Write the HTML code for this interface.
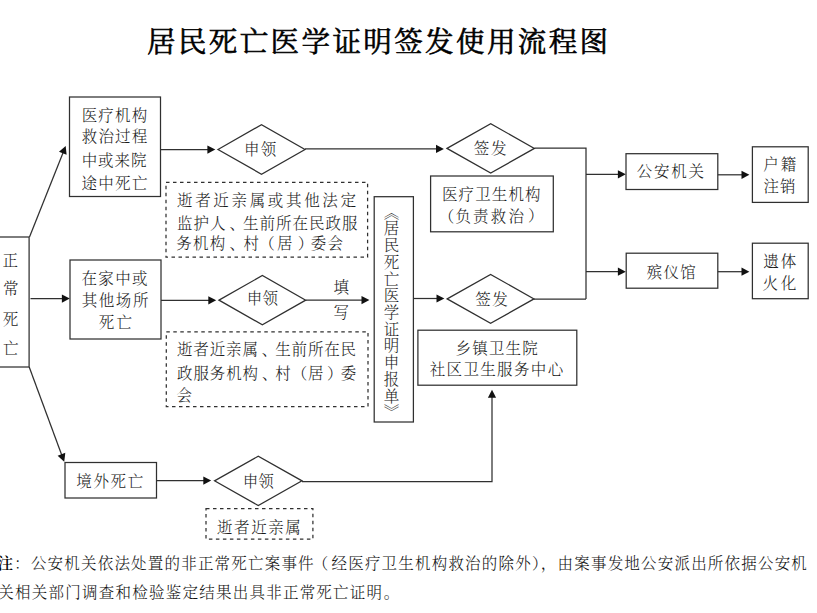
<!DOCTYPE html>
<html><head><meta charset="utf-8"><style>
html,body{margin:0;padding:0;background:#fff;}
body{width:817px;height:613px;position:relative;overflow:hidden;font-family:'Liberation Serif','Noto Serif CJK SC',serif;}
.t{position:absolute;white-space:pre;}
svg{position:absolute;left:0;top:0;}
</style></head><body>
<svg width="817" height="613" viewBox="0 0 817 613">
<rect x="-5" y="237" width="34.10" height="130.00" fill="none" stroke="#303030" stroke-width="1.25"/>
<polyline points="29.50,237.00 63.15,152.41" fill="none" stroke="#303030" stroke-width="1.25"/>
<polygon points="65.70,146.00 66.59,154.86 58.97,151.83" fill="#111"/>
<polyline points="30.50,298.60 62.90,298.60" fill="none" stroke="#303030" stroke-width="1.25"/>
<polygon points="69.80,298.60 61.90,302.70 61.90,294.50" fill="#111"/>
<polyline points="29.20,367.00 61.81,455.23" fill="none" stroke="#303030" stroke-width="1.25"/>
<polygon points="64.20,461.70 57.62,455.71 65.31,452.87" fill="#111"/>
<rect x="69.5" y="97" width="91.00" height="99.50" fill="none" stroke="#303030" stroke-width="1.25"/>
<rect x="70" y="260" width="91.00" height="79.00" fill="none" stroke="#303030" stroke-width="1.25"/>
<rect x="65" y="462.5" width="91.50" height="35.50" fill="none" stroke="#303030" stroke-width="1.25"/>
<polyline points="160.50,149.60 208.40,149.60" fill="none" stroke="#303030" stroke-width="1.25"/>
<polygon points="215.30,149.60 207.40,153.70 207.40,145.50" fill="#111"/>
<polygon points="218,149.45 261.5,124.7 305,149.45 261.5,174.2" fill="none" stroke="#303030" stroke-width="1.25"/>
<polyline points="305.00,148.90 437.00,148.90" fill="none" stroke="#303030" stroke-width="1.25"/>
<polygon points="443.90,148.90 436.00,153.00 436.00,144.80" fill="#111"/>
<rect x="166" y="182.4" width="201.60" height="74.80" fill="none" stroke="#303030" stroke-width="1.25" stroke-dasharray="3.5 3.5"/>
<polygon points="447,148.4 490.7,123.7 534.4,148.4 490.7,173.1" fill="none" stroke="#303030" stroke-width="1.25"/>
<polyline points="534.40,148.20 586.00,148.20 586.00,299.00" fill="none" stroke="#303030" stroke-width="1.25"/>
<polyline points="586.00,174.30 618.90,174.30" fill="none" stroke="#303030" stroke-width="1.25"/>
<polygon points="625.80,174.30 617.90,178.40 617.90,170.20" fill="#111"/>
<rect x="626" y="153.7" width="91.80" height="35.80" fill="none" stroke="#303030" stroke-width="1.25"/>
<polyline points="717.80,174.80 742.50,174.80" fill="none" stroke="#303030" stroke-width="1.25"/>
<polygon points="749.40,174.80 741.50,178.90 741.50,170.70" fill="#111"/>
<rect x="752.4" y="146.8" width="55.80" height="55.60" fill="none" stroke="#303030" stroke-width="1.25"/>
<rect x="430.6" y="176" width="122.70" height="55.80" fill="none" stroke="#303030" stroke-width="1.25"/>
<polyline points="586.00,271.70 618.90,271.70" fill="none" stroke="#303030" stroke-width="1.25"/>
<polygon points="625.80,271.70 617.90,275.80 617.90,267.60" fill="#111"/>
<rect x="626.2" y="253.2" width="91.60" height="35.00" fill="none" stroke="#303030" stroke-width="1.25"/>
<polyline points="717.80,271.70 742.50,271.70" fill="none" stroke="#303030" stroke-width="1.25"/>
<polygon points="749.40,271.70 741.50,275.80 741.50,267.60" fill="#111"/>
<rect x="752.4" y="243.2" width="55.80" height="55.50" fill="none" stroke="#303030" stroke-width="1.25"/>
<polyline points="161.00,300.30 209.30,300.30" fill="none" stroke="#303030" stroke-width="1.25"/>
<polygon points="216.20,300.30 208.30,304.40 208.30,296.20" fill="#111"/>
<polygon points="219,300.15 262.35,275.5 305.7,300.15 262.35,324.8" fill="none" stroke="#303030" stroke-width="1.25"/>
<polyline points="305.70,300.10 362.50,300.10" fill="none" stroke="#303030" stroke-width="1.25"/>
<polygon points="369.40,300.10 361.50,304.20 361.50,296.00" fill="#111"/>
<rect x="166.3" y="331.8" width="201.70" height="74.80" fill="none" stroke="#303030" stroke-width="1.25" stroke-dasharray="3.5 3.5"/>
<rect x="374.2" y="196.7" width="39.20" height="225.30" fill="none" stroke="#303030" stroke-width="1.25"/>
<polyline points="413.40,298.50 437.50,298.50" fill="none" stroke="#303030" stroke-width="1.25"/>
<polygon points="444.40,298.50 436.50,302.60 436.50,294.40" fill="#111"/>
<polygon points="447.2,298.9 490.6,274.4 534,298.9 490.6,323.4" fill="none" stroke="#303030" stroke-width="1.25"/>
<polyline points="534.00,299.00 586.00,299.00" fill="none" stroke="#303030" stroke-width="1.25"/>
<rect x="417.9" y="330.2" width="158.90" height="55.00" fill="none" stroke="#303030" stroke-width="1.25"/>
<polyline points="156.50,480.60 204.30,480.60" fill="none" stroke="#303030" stroke-width="1.25"/>
<polygon points="211.20,480.60 203.30,484.70 203.30,476.50" fill="#111"/>
<polygon points="214.5,480.85 258.25,456.2 302,480.85 258.25,505.5" fill="none" stroke="#303030" stroke-width="1.25"/>
<polyline points="302.00,481.60 492.00,481.60 492.00,396.70" fill="none" stroke="#303030" stroke-width="1.25"/>
<polygon points="492.00,389.80 496.10,397.70 487.90,397.70" fill="#111"/>
<rect x="206" y="508.6" width="106.90" height="30.60" fill="none" stroke="#303030" stroke-width="1.25" stroke-dasharray="3.5 3.5"/>
</svg>
<div class="t" id="title" style="left:147.03px;top:29.24px;font-size:28.5px;line-height:28.5px;letter-spacing:2.40px;font-weight:400;color:#000;-webkit-text-stroke:0.6px #000;">居民死亡医学证明签发使用流程图</div>
<div class="t" id="zheng" style="left:2.42px;top:252.91px;font-size:15.5px;line-height:15.5px;letter-spacing:0.50px;font-weight:300;color:#1a1a1a;">正</div>
<div class="t" id="chang" style="left:2.92px;top:280.92px;font-size:15.5px;line-height:15.5px;letter-spacing:0.50px;font-weight:300;color:#1a1a1a;">常</div>
<div class="t" id="si" style="left:2.67px;top:311.80px;font-size:15.5px;line-height:15.5px;letter-spacing:0.50px;font-weight:300;color:#1a1a1a;">死</div>
<div class="t" id="wang" style="left:3.12px;top:340.52px;font-size:15.5px;line-height:15.5px;letter-spacing:0.50px;font-weight:300;color:#1a1a1a;">亡</div>
<div class="t" id="b1l1" style="left:81.63px;top:107.57px;font-size:15.5px;line-height:15.5px;letter-spacing:1.22px;font-weight:300;color:#1a1a1a;">医疗机构</div>
<div class="t" id="b1l2" style="left:81.85px;top:129.44px;font-size:15.5px;line-height:15.5px;letter-spacing:1.10px;font-weight:300;color:#1a1a1a;">救治过程</div>
<div class="t" id="b1l3" style="left:81.64px;top:152.74px;font-size:15.5px;line-height:15.5px;letter-spacing:0.95px;font-weight:300;color:#1a1a1a;">中或来院</div>
<div class="t" id="b1l4" style="left:81.57px;top:175.60px;font-size:15.5px;line-height:15.5px;letter-spacing:1.28px;font-weight:300;color:#1a1a1a;">途中死亡</div>
<div class="t" id="b2l1" style="left:81.44px;top:270.65px;font-size:15.5px;line-height:15.5px;letter-spacing:1.38px;font-weight:300;color:#1a1a1a;">在家中或</div>
<div class="t" id="b2l2" style="left:81.65px;top:292.84px;font-size:15.5px;line-height:15.5px;letter-spacing:1.60px;font-weight:300;color:#1a1a1a;">其他场所</div>
<div class="t" id="b2l3" style="left:98.70px;top:314.75px;font-size:15.5px;line-height:15.5px;letter-spacing:2.32px;font-weight:300;color:#1a1a1a;">死亡</div>
<div class="t" id="b3" style="left:76.31px;top:473.78px;font-size:15.5px;line-height:15.5px;letter-spacing:1.64px;font-weight:300;color:#1a1a1a;">境外死亡</div>
<div class="t" id="d1" style="left:244.08px;top:142.19px;font-size:15.5px;line-height:15.5px;letter-spacing:1.06px;font-weight:300;color:#1a1a1a;">申领</div>
<div class="t" id="db1l1" style="left:176.99px;top:193.48px;font-size:15.5px;line-height:15.5px;letter-spacing:2.67px;font-weight:300;color:#1a1a1a;">逝者近亲属或其他法定</div>
<div class="t" id="db1l2" style="left:177.02px;top:215.83px;font-size:15.5px;line-height:15.5px;letter-spacing:1.00px;font-weight:300;color:#1a1a1a;">监护人<span style="position:relative;left:3px">、</span>生前所在民政服</div>
<div class="t" id="db1l3" style="left:176.20px;top:236.48px;font-size:15.5px;line-height:15.5px;letter-spacing:1.30px;font-weight:300;color:#1a1a1a;">务机构<span style="position:relative;left:3px">、</span>村<span style="position:relative;left:-1px">（</span>居<span style="position:relative;left:4px">）</span>委会</div>
<div class="t" id="q1" style="left:473.71px;top:140.54px;font-size:15.5px;line-height:15.5px;letter-spacing:1.72px;font-weight:300;color:#1a1a1a;">签发</div>
<div class="t" id="gaj" style="left:636.87px;top:164.33px;font-size:15.5px;line-height:15.5px;letter-spacing:1.70px;font-weight:300;color:#1a1a1a;">公安机关</div>
<div class="t" id="hj" style="left:763.34px;top:157.15px;font-size:15.5px;line-height:15.5px;letter-spacing:1.80px;font-weight:300;color:#1a1a1a;">户籍</div>
<div class="t" id="zx" style="left:763.54px;top:179.24px;font-size:15.5px;line-height:15.5px;letter-spacing:1.00px;font-weight:300;color:#1a1a1a;">注销</div>
<div class="t" id="yl1" style="left:441.96px;top:186.57px;font-size:15.5px;line-height:15.5px;letter-spacing:1.11px;font-weight:300;color:#1a1a1a;">医疗卫生机构</div>
<div class="t" id="yl2" style="left:455.42px;top:209.43px;font-size:15.5px;line-height:15.5px;letter-spacing:2.17px;font-weight:300;color:#1a1a1a;">负责救治</div>
<div class="t" id="yl2a" style="left:438.86px;top:209.03px;font-size:15.5px;line-height:15.5px;letter-spacing:0.50px;font-weight:300;color:#1a1a1a;">（</div>
<div class="t" id="yl2b" style="left:528.00px;top:208.23px;font-size:15.5px;line-height:15.5px;letter-spacing:0.50px;font-weight:300;color:#1a1a1a;">）</div>
<div class="t" id="byg" style="left:646.82px;top:264.96px;font-size:15.5px;line-height:15.5px;letter-spacing:1.18px;font-weight:300;color:#1a1a1a;">殡仪馆</div>
<div class="t" id="yt" style="left:763.34px;top:254.45px;font-size:15.5px;line-height:15.5px;letter-spacing:1.80px;font-weight:300;color:#1a1a1a;">遗体</div>
<div class="t" id="hh" style="left:762.54px;top:276.49px;font-size:15.5px;line-height:15.5px;letter-spacing:2.60px;font-weight:300;color:#1a1a1a;">火化</div>
<div class="t" id="d2" style="left:246.70px;top:290.93px;font-size:15.5px;line-height:15.5px;letter-spacing:0.26px;font-weight:300;color:#1a1a1a;">申领</div>
<div class="t" id="tian" style="left:333.44px;top:279.69px;font-size:15.5px;line-height:15.5px;letter-spacing:0.50px;font-weight:300;color:#1a1a1a;">填</div>
<div class="t" id="xie" style="left:333.43px;top:304.62px;font-size:15.5px;line-height:15.5px;letter-spacing:0.50px;font-weight:300;color:#1a1a1a;">写</div>
<div class="t" id="db2l1" style="left:176.99px;top:342.29px;font-size:15.5px;line-height:15.5px;letter-spacing:0.86px;font-weight:300;color:#1a1a1a;">逝者近亲属<span style="position:relative;left:3px">、</span>生前所在民</div>
<div class="t" id="db2l2" style="left:177.08px;top:365.65px;font-size:15.5px;line-height:15.5px;letter-spacing:0.87px;font-weight:300;color:#1a1a1a;">政服务机构<span style="position:relative;left:3px">、</span>村（居<span style="position:relative;left:2.5px">）</span>委</div>
<div class="t" id="db2l3" style="left:176.44px;top:387.60px;font-size:15.5px;line-height:15.5px;letter-spacing:0.95px;font-weight:300;color:#1a1a1a;">会</div>
<div class="t" id="q2" style="left:475.35px;top:291.50px;font-size:15.5px;line-height:15.5px;letter-spacing:1.40px;font-weight:300;color:#1a1a1a;">签发</div>
<div class="t" id="xz1" style="left:455.54px;top:340.94px;font-size:15.5px;line-height:15.5px;letter-spacing:1.18px;font-weight:300;color:#1a1a1a;">乡镇卫生院</div>
<div class="t" id="xz2" style="left:429.69px;top:362.17px;font-size:15.5px;line-height:15.5px;letter-spacing:1.35px;font-weight:300;color:#1a1a1a;">社区卫生服务中心</div>
<div class="t" id="d3" style="left:242.86px;top:473.93px;font-size:15.5px;line-height:15.5px;letter-spacing:-0.06px;font-weight:300;color:#1a1a1a;">申领</div>
<div class="t" id="db3" style="left:217.07px;top:519.56px;font-size:15.5px;line-height:15.5px;letter-spacing:1.54px;font-weight:300;color:#1a1a1a;">逝者近亲属</div>
<div class="t" id="vbox" style="left:381.91px;top:203.50px;font-size:15.5px;line-height:15.5px;letter-spacing:1.23px;writing-mode:vertical-rl;font-weight:300;color:#1a1a1a">《居民死亡医学证明申报单》</div>
<div class="t" id="note1" style="left:-2.50px;top:555.60px;font-size:15.5px;line-height:15.5px;letter-spacing:1.20px;font-weight:300;color:#111"><span style="font-weight:600;color:#000">注</span>：公安机关依法处置的非正常死亡案事件<span style="position:relative;left:-2px">（</span>经医疗卫生机构救治的除外），由案事发地公安派出所依据公安机</div>
<div class="t" id="note2" style="left:-1.70px;top:584.92px;font-size:15.5px;line-height:15.5px;letter-spacing:1.24px;font-weight:300;color:#111">关相关部门调查和检验鉴定结果出具非正常死亡证明<span style="position:relative;left:0.4px">。</span></div>
</body></html>
